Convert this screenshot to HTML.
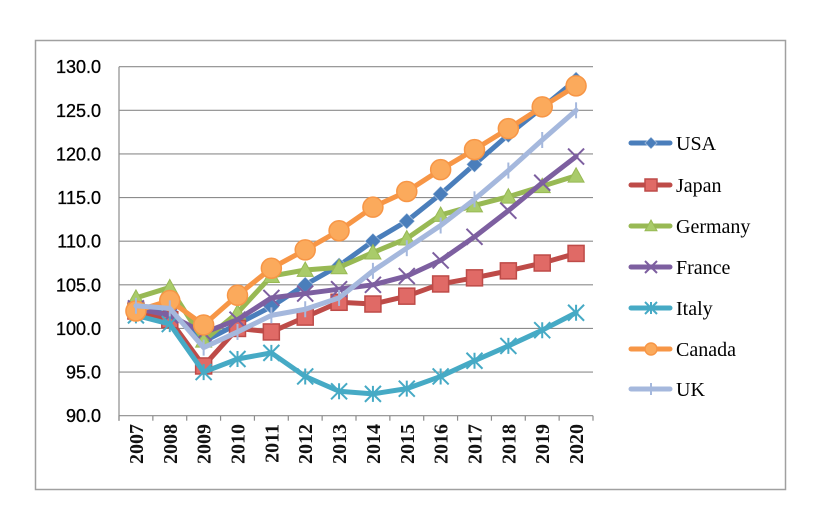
<!DOCTYPE html>
<html><head><meta charset="utf-8"><style>
body{margin:0;background:#fff;}
svg{display:block;}
</style></head><body>
<svg id="c" width="816" height="530" xmlns="http://www.w3.org/2000/svg"></svg>
<script>
const s=document.getElementById('c');
let h='<rect x="35.5" y="40.5" width="750" height="449" fill="#fff" stroke="#a0a0a0" stroke-width="1.5"/>';
const X0=119,X1=593,st=(X1-X0)/14,Y=v=>66.7+(130-v)*349/40;
for(let v=90;v<=130;v+=5){const y=Y(v);h+=`<line x1="${X0}" x2="${X1}" y1="${y}" y2="${y}" stroke="#8c8c8c" stroke-width="1.2"/>`;
h+=`<text x="${X0-18}" y="${y+6.5}" text-anchor="end" font-family="Liberation Sans,sans-serif" font-size="18" fill="#000" stroke="#000" stroke-width="0.3">${v.toFixed(1)}</text>`;}
h+=`<line x1="${X0}" x2="${X0}" y1="66.7" y2="${Y(90)+5}" stroke="#8c8c8c" stroke-width="1.2"/>`;
for(let i=0;i<=14;i++){const x=X0+i*st;h+=`<line x1="${x}" x2="${x}" y1="${Y(90)}" y2="${Y(90)+5}" stroke="#8c8c8c" stroke-width="1.2"/>`;}
for(let i=0;i<14;i++){const x=X0+(i+0.5)*st+7;h+=`<text transform="translate(${x},424) rotate(-90)" text-anchor="end" font-family="Liberation Serif,serif" font-weight="bold" font-size="20" fill="#111">${2007+i}</text>`;}
const D=[
['USA','#4a7ebb','d',[102,102,98.5,100.5,102.5,105,107.2,110,112.3,115.4,118.8,122.2,125.3,128.5]],
['Japan','#be4b48','s',[102,101,95.7,100,99.6,101.3,103,102.8,103.7,105.1,105.8,106.6,107.5,108.6]],
['Germany','#98b954','t',[103.5,104.7,98.6,101.8,106,106.7,107,108.7,110.3,113,114.1,115.1,116.3,117.5]],
['France','#7d5fa0','x',[102.3,101.5,99.5,101,103.5,104,104.5,105,106,107.8,110.5,113.5,116.7,119.7]],
['Italy','#46aac5','a',[101.5,100.5,95,96.5,97.2,94.5,92.8,92.5,93.1,94.5,96.3,98,99.8,101.8]],
['Canada','#f79646','c',[102,103.2,100.4,103.8,106.9,109,111.2,113.9,115.7,118.2,120.5,122.9,125.4,127.8]],
['UK','#a5b8dd','p',[102.6,102.3,97.8,99.6,101.5,102.2,103.5,106.6,109.2,111.8,114.8,118.1,121.6,125]]];
function mk(t,x,y,c,r){
 if(t=='d')return `<polygon points="${x},${y-r} ${x+r},${y} ${x},${y+r} ${x-r},${y}" fill="${c}" stroke="#fff" stroke-opacity=".4"/>`;
 if(t=='s')return `<rect x="${x-r}" y="${y-r}" width="${2*r}" height="${2*r}" fill="#e06a66" stroke="${c}" stroke-width="1.5"/>`;
 if(t=='t')return `<polygon points="${x},${y-r} ${x+r},${y+r*0.8} ${x-r},${y+r*0.8}" fill="#a9cb6a" stroke="${c}"/>`;
 if(t=='c')return `<circle cx="${x}" cy="${y}" r="${r}" fill="#fbaa5c" stroke="${c}" stroke-width="1.5"/>`;
 if(t=='x')return `<path d="M${x-r} ${y-r}L${x+r} ${y+r}M${x+r} ${y-r}L${x-r} ${y+r}" stroke="${c}" stroke-width="2"/>`;
 if(t=='a')return `<path d="M${x-r} ${y-r}L${x+r} ${y+r}M${x+r} ${y-r}L${x-r} ${y+r}M${x} ${y-r}L${x} ${y+r}" stroke="${c}" stroke-width="2"/>`;
 return `<path d="M${x} ${y-r}L${x} ${y+r}" stroke="${c}" stroke-width="2"/>`;
}
D.forEach((d,k)=>{
 const pts=d[3].map((v,i)=>[X0+(i+0.5)*st,Y(v)]);
 h+=`<polyline points="${pts.map(p=>p.join(',')).join(' ')}" fill="none" stroke="${d[1]}" stroke-width="5" stroke-linejoin="round" stroke-linecap="round"/>`;
 pts.forEach(p=>h+=mk(d[2],p[0],p[1],d[1],d[2]=='d'?8:d[2]=='c'?10:8));
 const ly=[143,185,226,267,308,349,389][k];
 h+=`<line x1="631" x2="670" y1="${ly}" y2="${ly}" stroke="${d[1]}" stroke-width="5" stroke-linecap="round"/>`;
 h+=mk(d[2],651,ly,d[1],6);
 h+=`<text x="676" y="${ly+7}" font-family="Liberation Serif,serif" font-size="20" fill="#000">${d[0]}</text>`;
});
s.innerHTML=h;
</script>
</body></html>
